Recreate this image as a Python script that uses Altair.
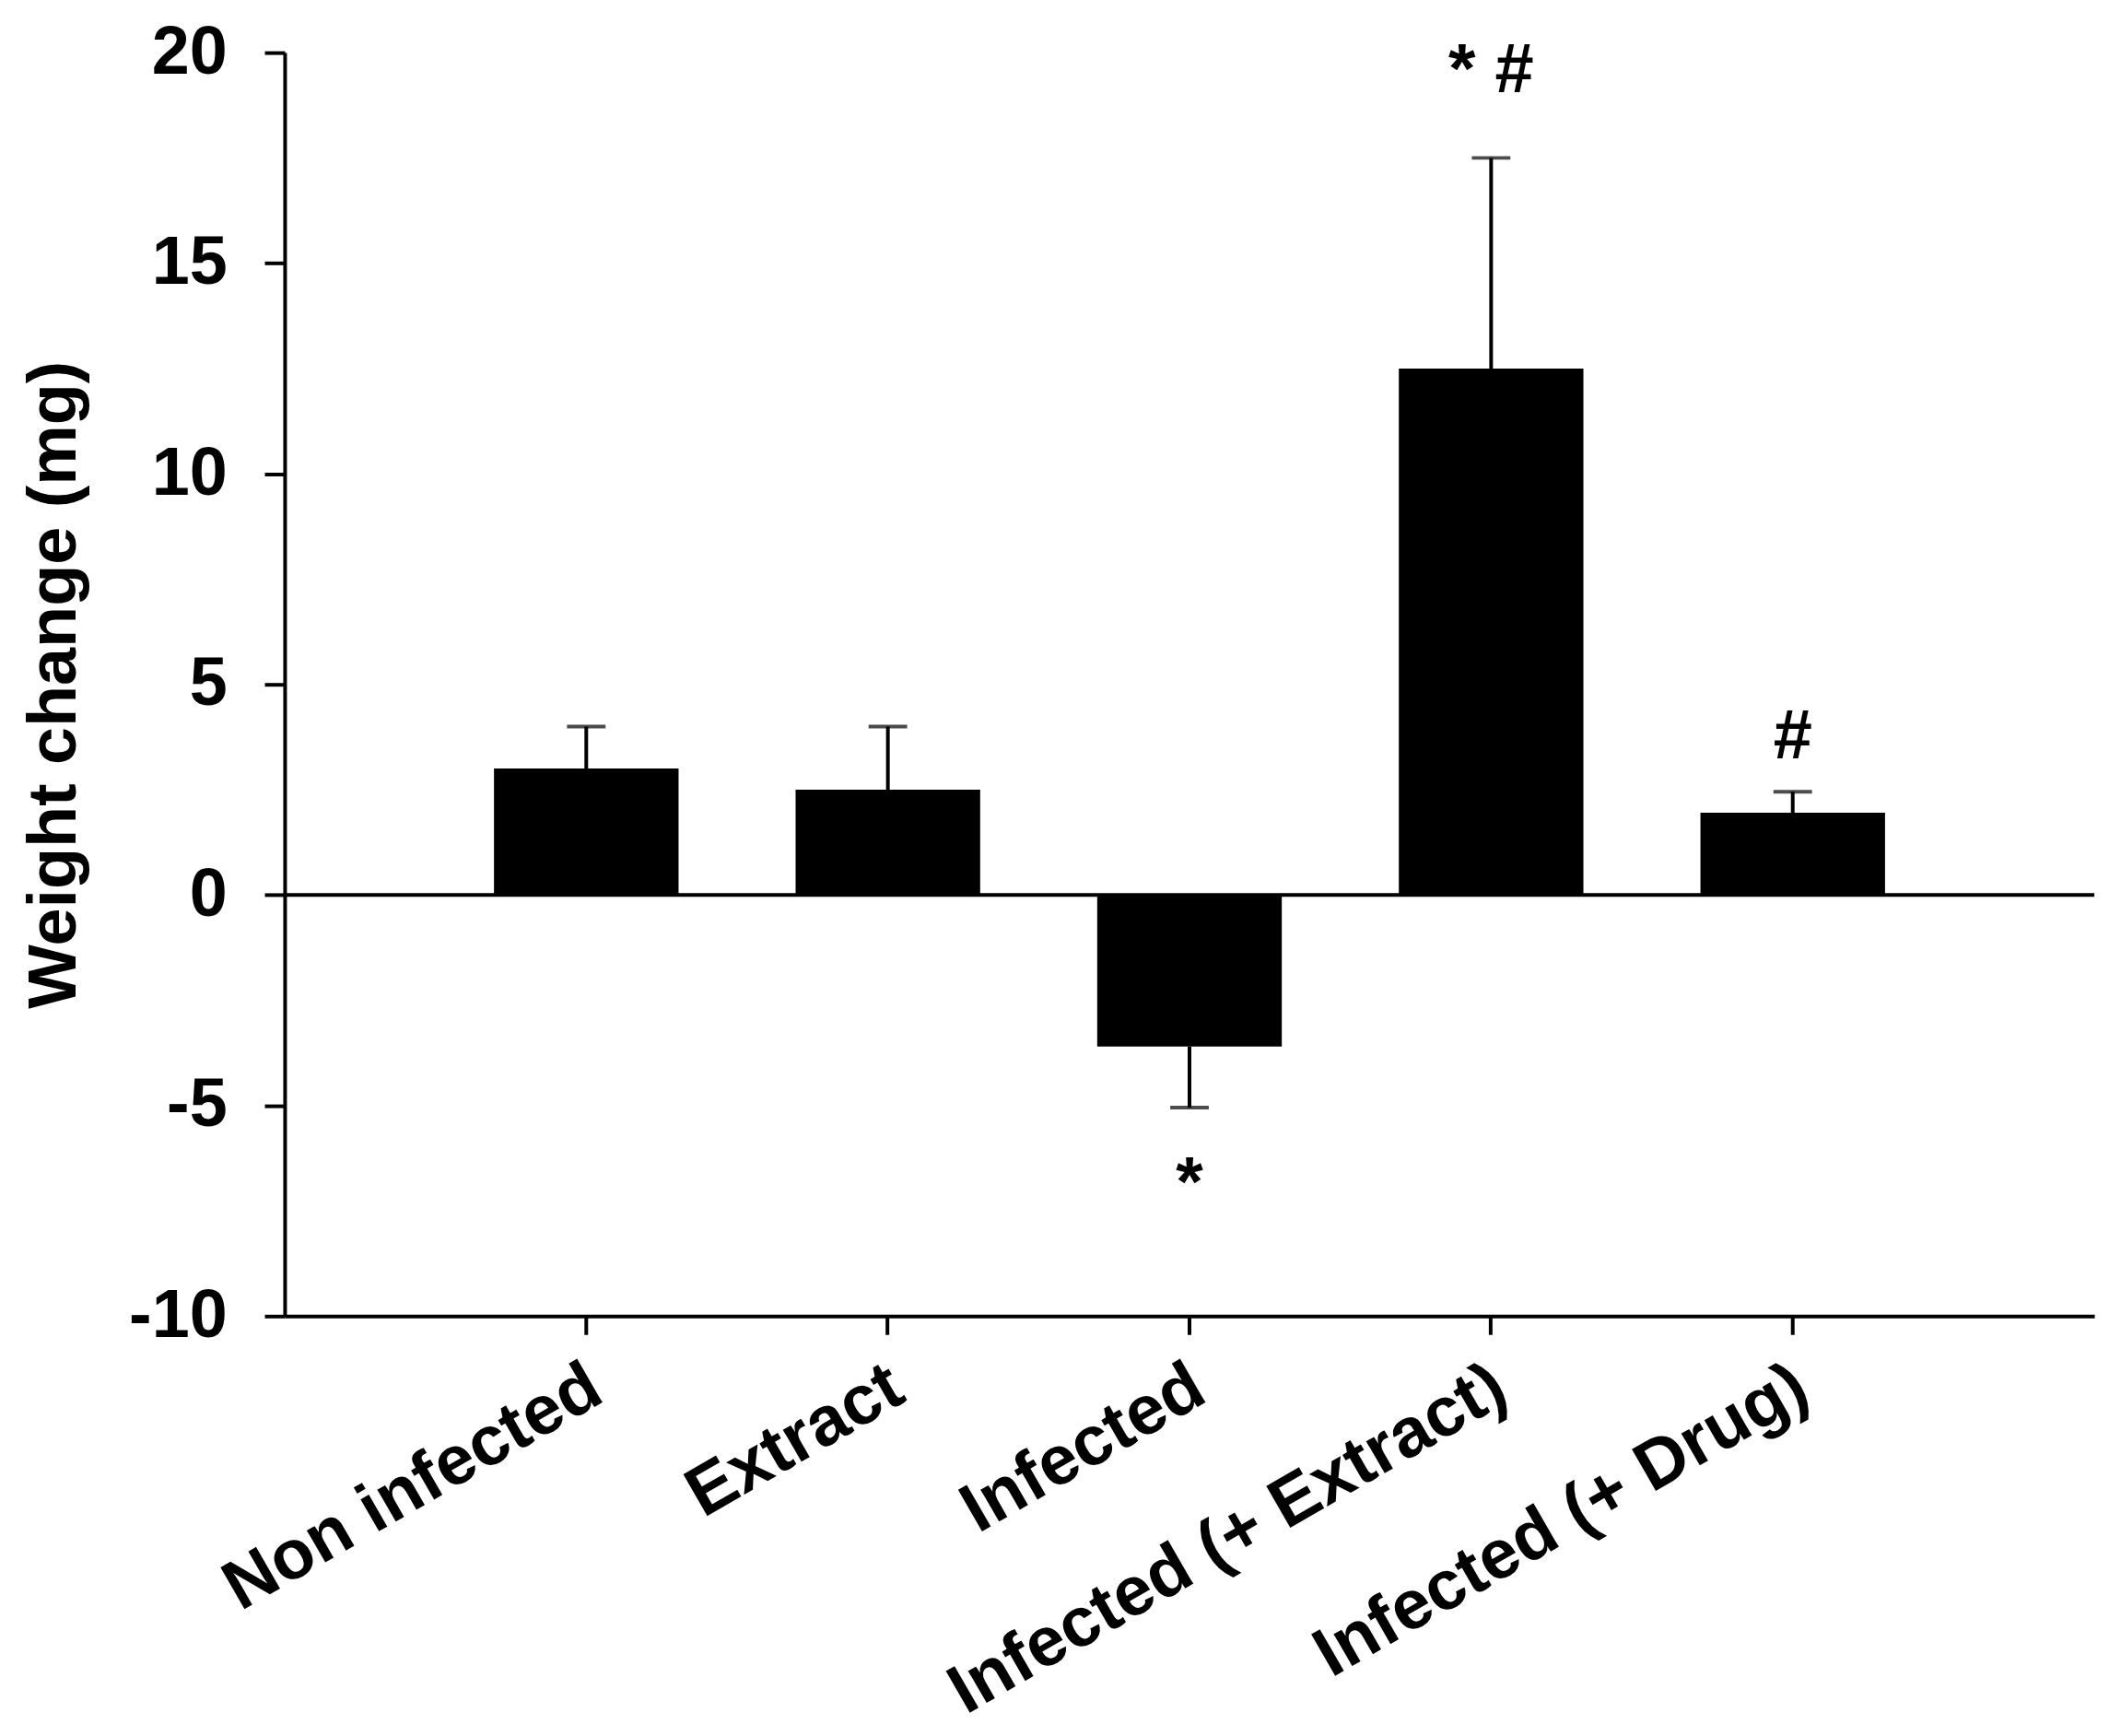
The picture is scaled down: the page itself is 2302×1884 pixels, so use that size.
import altair as alt
import pandas as pd

# ---- data ----
groups = ["Non infected", "Extract", "Infected", "Infected (+ Extract)", "Infected (+ Drug)"]
means = [3.0, 2.5, -3.6, 12.5, 1.95]
err_ends = [4.0, 4.0, -5.05, 17.5, 2.45]

ann_groups = ["Infected", "Infected (+ Extract)", "Infected (+ Drug)"]
ann_labels = ["*", "* #", "#"]
ann_pos = [-7.36, 19.06, 3.25]

y_ticks = [-10, -5, 0, 5, 10, 15, 20]
zero_line = [0]

FONT = "Liberation Sans"

df = pd.DataFrame({"group": groups, "mean": means, "err": err_ends})
ann = pd.DataFrame({"group": ann_groups, "label": ann_labels, "pos": ann_pos})
zdf = pd.DataFrame({"zero": zero_line})

x_enc = alt.X(
    "group:N",
    sort=groups,
    scale=alt.Scale(paddingInner=0.388, paddingOuter=0.694),
    axis=alt.Axis(
        title=None,
        labelAngle=-30,
        labelAlign="right",
        labelBaseline="top",
        labelFont=FONT,
        labelFontWeight="bold",
        labelFontSize=76,
        labelColor="black",
        labelPadding=19,
        labelOffset=-8,
        labelLimit=2000,
        tickSize=20,
        tickWidth=4,
        tickColor="black",
        domainWidth=4,
        domainColor="black",
        grid=False,
    ),
)

y_scale = alt.Scale(domain=[-10, 20], nice=False, zero=False)
y_axis = alt.Axis(
    values=y_ticks,
    labelExpr="'' + datum.value",
    title="Weight change (mg)",
    titleFont=FONT,
    titleFontWeight="bold",
    titleFontSize=74,
    titleColor="black",
    titleX=-250,
    titleY=688,
    titleAngle=270,
    titleAlign="center",
    titleBaseline="middle",
    labelFont=FONT,
    labelFontWeight="bold",
    labelFontSize=74,
    labelColor="black",
    labelPadding=41,
    tickSize=22,
    tickWidth=4,
    tickColor="black",
    domainWidth=4,
    domainColor="black",
    grid=False,
)

base = alt.Chart(df)

bars = base.mark_bar(color="black").encode(
    x=x_enc,
    y=alt.Y("mean:Q", scale=y_scale, axis=y_axis),
    y2=alt.datum(0),
)

err_rule = base.mark_rule(color="black", strokeWidth=4).encode(
    x=alt.X("group:N", sort=groups),
    y="mean:Q",
    y2="err:Q",
)

caps = base.mark_tick(color="black", orient="horizontal", size=42, thickness=4).encode(
    x=alt.X("group:N", sort=groups),
    y="err:Q",
)

zero = alt.Chart(zdf).mark_rule(color="black", strokeWidth=4).encode(
    y="zero:Q",
)

labels = alt.Chart(ann).mark_text(
    font=FONT, fontWeight="bold", fontSize=76, color="black",
    align="center", baseline="alphabetic",
).encode(
    x=alt.X("group:N", sort=groups),
    y="pos:Q",
    text="label:N",
)

chart = (
    alt.layer(bars, err_rule, caps, zero, labels)
    .properties(
        width=1971,
        height=1376,
        autosize=alt.AutoSizeParams(type="none"),
        padding={"left": 302, "top": 46, "right": 21, "bottom": 454},
        background="white",
    )
    .configure_view(strokeWidth=0)
)

chart.save("out.html", embed_options={"renderer": "svg", "actions": False})
